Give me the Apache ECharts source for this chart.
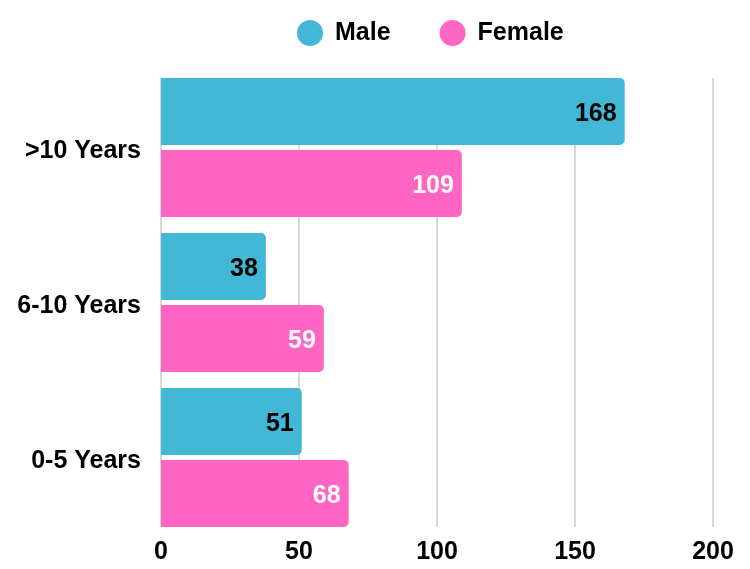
<!DOCTYPE html>
<html>
<head>
<meta charset="utf-8">
<script src="https://cdn.jsdelivr.net/npm/echarts@6/dist/echarts.min.js"></script>
<style>html,body{margin:0;padding:0;background:#fff;}#c{width:750px;height:569px;}</style>
</head>
<body>
<div id="c"></div>
<script>
const categories = ['0-5 Years', '6-10 Years', '>10 Years'];
const maleValues = [51, 38, 168];
const femaleValues = [68, 59, 109];
const xTicks = [0, 50, 100, 150, 200];

const chart = echarts.init(document.getElementById('c'), null, {renderer: 'canvas'});
const font = 'Liberation Sans, Arial, sans-serif';
const FS = 25;
chart.setOption({
  animation: false,
  backgroundColor: '#ffffff',
  legend: {
    left: 292, top: 15,
    icon: 'circle', itemWidth: 26, itemHeight: 26, itemGap: 49,
    textStyle: {fontFamily: font, fontSize: FS, fontWeight: 'bold', color: '#000', padding: [0, 0, 0, 7]},
    data: ['Male', 'Female']
  },
  grid: [
    {left: 161, right: 37, top: 78, bottom: 42, containLabel: false},
    {left: 161, right: 37, top: 70, bottom: 34, containLabel: false}
  ],
  xAxis: [
    {
      gridIndex: 0, type: 'value', min: xTicks[0], max: xTicks[xTicks.length - 1], interval: 50,
      axisLine: {show: false}, axisTick: {show: false},
      splitLine: {show: true, lineStyle: {color: '#cccccc', width: 1.5}},
      axisLabel: {fontFamily: font, fontSize: FS, fontWeight: 'bold', color: '#000', margin: 13}
    },
    {
      gridIndex: 1, type: 'value', min: xTicks[0], max: xTicks[xTicks.length - 1], interval: 50,
      show: false
    }
  ],
  yAxis: [
    {gridIndex: 0, type: 'category', data: categories, show: false},
    {
      gridIndex: 1, type: 'category', data: categories,
      axisLine: {show: false}, axisTick: {show: false},
      axisLabel: {
        margin: 20,
        formatter: '{a|{value}}',
        rich: {a: {fontFamily: font, fontSize: FS, fontWeight: 'bold', color: '#000', padding: [8, 0, 0, 0]}}
      }
    }
  ],
  series: [
    {
      name: 'Male', type: 'bar', data: maleValues, xAxisIndex: 1, yAxisIndex: 1,
      barGap: '7.5%', barCategoryGap: '10.3%',
      itemStyle: {color: '#42B7D6', borderRadius: [0, 5, 5, 0]},
      label: {show: true, position: 'insideRight', distance: 8, offset: [0, 3], fontFamily: font, fontSize: FS, fontWeight: 'bold', color: '#000'}
    },
    {
      name: 'Female', type: 'bar', data: femaleValues, xAxisIndex: 1, yAxisIndex: 1,
      barGap: '7.5%', barCategoryGap: '10.3%',
      itemStyle: {color: '#FF66C4', borderRadius: [0, 5, 5, 0]},
      label: {show: true, position: 'insideRight', distance: 8, offset: [0, 3], fontFamily: font, fontSize: FS, fontWeight: 'bold', color: '#fff'}
    }
  ]
});
</script>
</body>
</html>
